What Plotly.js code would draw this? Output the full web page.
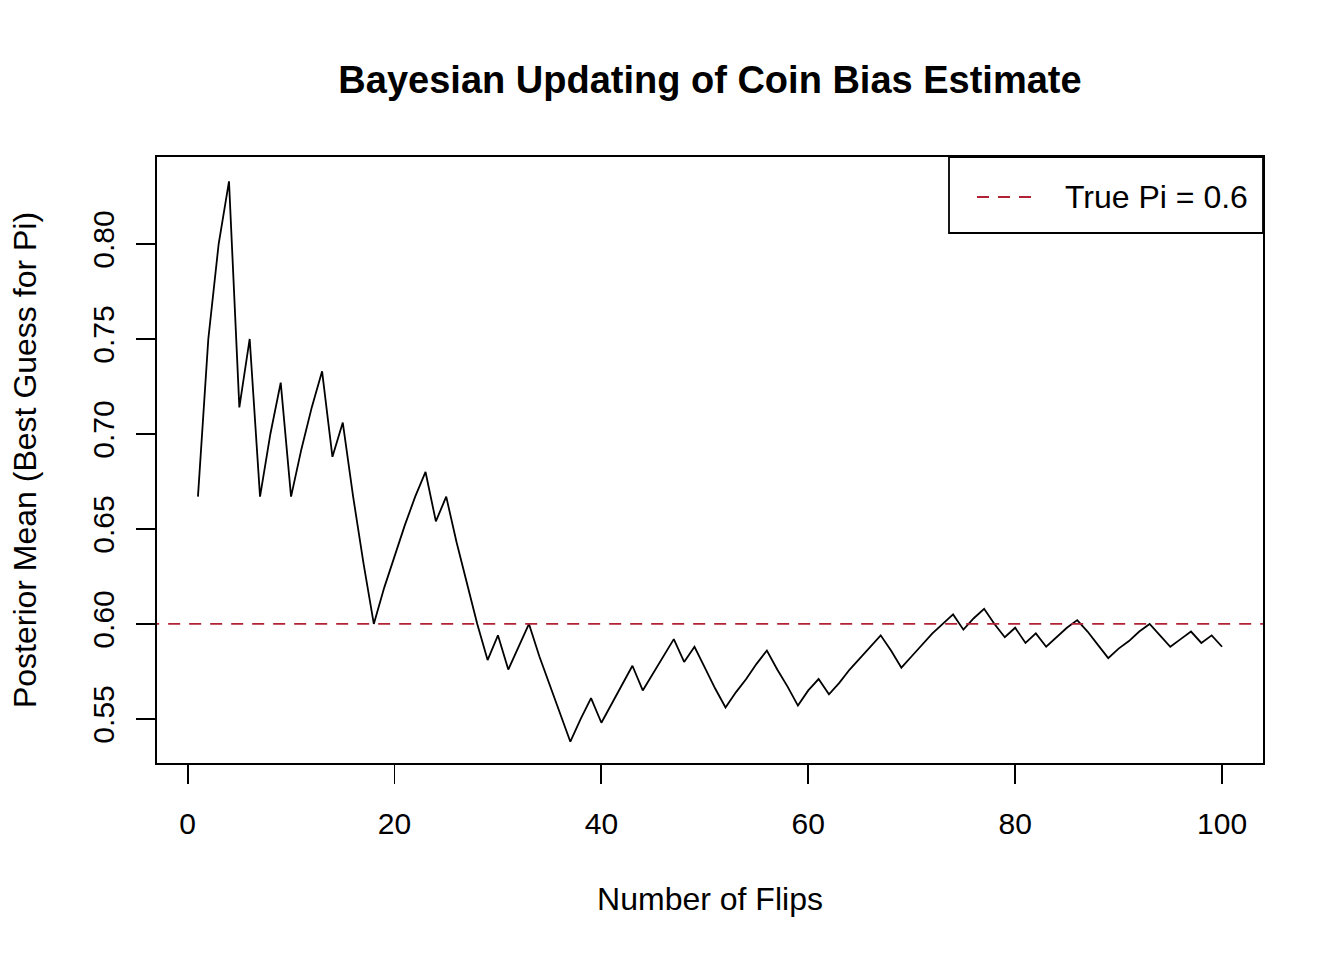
<!DOCTYPE html>
<html>
<head>
<meta charset="utf-8">
<script src="https://cdn.plot.ly/plotly-3.0.1.min.js"></script>
<style>html,body{margin:0;padding:0;background:#fff;}#chart{width:1344px;height:960px;}</style>
</head>
<body>
<div id="chart"></div>
<script>
// Number of flips
var flips = [];
for (var i = 1; i <= 100; i++) flips.push(i);

// Posterior mean
var posteriorMean = [
  0.667, 0.750, 0.800, 0.833, 0.714, 0.750, 0.667, 0.700, 0.727, 0.667,
  0.692, 0.714, 0.733, 0.688, 0.706, 0.667, 0.632, 0.600, 0.619, 0.636,
  0.652, 0.667, 0.680, 0.654, 0.667, 0.643, 0.621, 0.600, 0.581, 0.594,
  0.576, 0.588, 0.600, 0.583, 0.568, 0.553, 0.538, 0.550, 0.561, 0.548,
  0.558, 0.568, 0.578, 0.565, 0.574, 0.583, 0.592, 0.580, 0.588, 0.577,
  0.566, 0.556, 0.564, 0.571, 0.579, 0.586, 0.576, 0.567, 0.557, 0.565,
  0.571, 0.563, 0.569, 0.576, 0.582, 0.588, 0.594, 0.586, 0.577, 0.583,
  0.589, 0.595, 0.600, 0.605, 0.597, 0.603, 0.608, 0.600, 0.593, 0.598,
  0.590, 0.595, 0.588, 0.593, 0.598, 0.602, 0.596, 0.589, 0.582, 0.587,
  0.591, 0.596, 0.600, 0.594, 0.588, 0.592, 0.596, 0.590, 0.594, 0.588
];

var truePi = 0.6;
var xTicks = [0, 20, 40, 60, 80, 100];
var yTicks = [0.55, 0.60, 0.65, 0.70, 0.75, 0.80];
var yTickLabels = ["0.55", "0.60", "0.65", "0.70", "0.75", "0.80"];
var legendLabel = "True Pi = 0.6";

var font = "Liberation Sans, Arial, Helvetica, sans-serif";
var red = "#B22234";

// plot area in pixels (for placing the legend box)
var L = 157, R = 1263, T = 157, B = 763;
function px(x) { return (x - L) / (R - L); }
function py(y) { return (B - y) / (B - T); }

var traces = [
  {
    x: flips, y: posteriorMean, type: "scatter", mode: "lines",
    line: {color: "#000000", width: 1.8}, showlegend: false
  },
  {
    x: [-10, 115], y: [truePi, truePi], type: "scatter", mode: "lines",
    line: {color: red, width: 1.8, dash: "12px,9px"},
    name: legendLabel, showlegend: false
  }
];

var layout = {
  width: 1344, height: 960,
  paper_bgcolor: "#ffffff", plot_bgcolor: "#ffffff",
  margin: {l: L, r: 1344 - R, t: T, b: 960 - B, pad: 0},
  font: {family: font, size: 30, color: "#000"},
  showlegend: false,
  title: {
    text: "<b>Bayesian Updating of Coin Bias Estimate</b>",
    font: {family: font, size: 38, color: "#000"},
    x: 0.5, xanchor: "center", xref: "paper",
    y: 1 - 80 / 960, yanchor: "middle", yref: "container"
  },
  xaxis: {
    range: [-2.96, 103.96], autorange: false,
    tickvals: xTicks, ticktext: xTicks.map(String),
    ticks: "outside", ticklen: 19, tickwidth: 1.8, tickcolor: "#000",
    showline: true, linecolor: "#000", linewidth: 1.8, mirror: true,
    showgrid: false, zeroline: false,
    tickfont: {family: font, size: 30, color: "#000"},
    ticklabelstandoff: 14,
    title: {text: "Number of Flips", font: {family: font, size: 32, color: "#000"}, standoff: 49}
  },
  yaxis: {
    range: [0.5268, 0.8458], autorange: false,
    tickvals: yTicks, ticktext: yTickLabels,
    tickangle: -90,
    ticks: "outside", ticklen: 19, tickwidth: 1.8, tickcolor: "#000",
    showline: true, linecolor: "#000", linewidth: 1.8, mirror: true,
    showgrid: false, zeroline: false,
    tickfont: {family: font, size: 30, color: "#000"},
    ticklabelstandoff: 10,
    title: {text: "Posterior Mean (Best Guess for Pi)", font: {family: font, size: 32, color: "#000"}, standoff: 41}
  },
  shapes: [
    {type: "rect", xref: "paper", yref: "paper",
     x0: px(949), x1: 1, y0: py(233), y1: 1,
     line: {color: "#000", width: 1.8}, fillcolor: "rgba(0,0,0,0)"},
    {type: "line", xref: "paper", yref: "paper",
     x0: px(977), x1: px(1033), y0: py(197), y1: py(197),
     line: {color: red, width: 1.8, dash: "12px,9px"}}
  ],
  annotations: [
    {xref: "paper", yref: "paper", x: px(1063), y: py(197),
     xanchor: "left", yanchor: "middle", showarrow: false,
     text: legendLabel, font: {family: font, size: 32, color: "#000"}}
  ]
};

Plotly.newPlot("chart", traces, layout, {displayModeBar: false, staticPlot: true});
</script>
</body>
</html>
